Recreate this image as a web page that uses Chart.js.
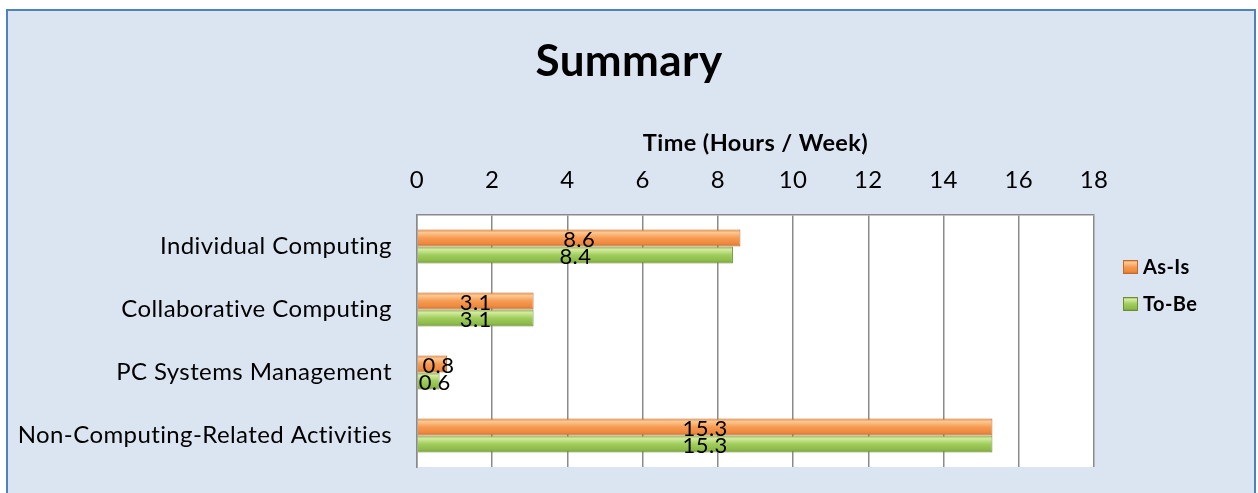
<!DOCTYPE html>
<html>
<head>
<meta charset="utf-8">
<script src="https://cdn.jsdelivr.net/npm/chart.js@4"></script>
<style>
  html, body { margin: 0; padding: 0; background: #ffffff; }
  #wrap { width: 1258px; height: 493px; }
</style>
</head>
<body>
<div id="wrap"><canvas id="summary-chart" width="1258" height="493"></canvas></div>
<script>
const categories = ['Individual Computing', 'Collaborative Computing', 'PC Systems Management', 'Non-Computing-Related Activities'];
const seriesNames = ['As-Is', 'To-Be'];
const asIsHours = [8.6, 3.1, 0.8, 15.3];
const toBeHours = [8.4, 3.1, 0.6, 15.3];
const xTicks = [0, 2, 4, 6, 8, 10, 12, 14, 16, 18];

const FONT = 'Lato, "DejaVu Sans", sans-serif';
const CAT_PCT = 0.54;

// gradient stops for the bevelled bars
const barStyles = [
    { border: '#c46a28', stops: ['#e8843a', '#fcc892', '#f79b52', '#ec873d', '#b9652a'] },
    { border: '#6f8c37', stops: ['#8cb04a', '#d3eb9f', '#a0cd5c', '#8cba48', '#6a8a34'] }
];

function makeGradient(ctx, top, bottom, style) {
    const g = ctx.createLinearGradient(0, top, 0, bottom);
    const pos = [0, 0.18, 0.5, 0.85, 1];
    style.stops.forEach((c, i) => g.addColorStop(pos[i], c));
    return g;
}

function barFill(context) {
    const chart = context.chart;
    const style = barStyles[context.datasetIndex];
    const yScale = chart.scales.y;
    if (!yScale || !chart.chartArea) return style.stops[2];
    const center = yScale.getPixelForValue(context.dataIndex);
    const half = yScale.height / categories.length * CAT_PCT / 2;
    const top = context.datasetIndex === 0 ? center - half : center;
    return makeGradient(chart.ctx, top, top + half, style);
}

const backgroundPlugin = {
    id: 'frame',
    afterLayout(chart) {
        // center the title over the whole frame, legend column included
        if (chart.titleBlock) {
            chart.titleBlock.left = 0;
            chart.titleBlock.right = chart.width;
        }
    },
    beforeDraw(chart) {
        const ctx = chart.ctx;
        const a = chart.chartArea;
        ctx.letterSpacing = '0.4px';
        ctx.save();
        ctx.fillStyle = '#ffffff';
        ctx.fillRect(0, 0, chart.width, chart.height);
        ctx.fillStyle = '#dbe5f1';
        ctx.fillRect(7, 10, chart.width - 10, chart.height);
        ctx.strokeStyle = '#4f81bd';
        ctx.lineWidth = 2;
        ctx.strokeRect(7, 10, chart.width - 10, chart.height + 10);
        ctx.fillStyle = '#ffffff';
        ctx.fillRect(a.left, a.top, a.right - a.left, a.bottom - a.top);
        ctx.restore();
    }
};

const valueLabels = {
    id: 'valueLabels',
    afterDatasetsDraw(chart) {
        const ctx = chart.ctx;
        ctx.save();
        ctx.font = '22px ' + FONT;
        ctx.fillStyle = '#000000';
        ctx.textAlign = 'center';
        ctx.textBaseline = 'middle';
        chart.data.datasets.forEach((ds, di) => {
            chart.getDatasetMeta(di).data.forEach((bar, i) => {
                const x = (bar.x + bar.base) / 2 + (ds.data[i] < 1 ? 6 : 0);
                ctx.fillText(ds.data[i].toFixed(1), x, bar.y + 2);
            });
        });
        ctx.restore();
    }
};

const sideLegend = {
    id: 'sideLegend',
    afterDraw(chart) {
        const ctx = chart.ctx;
        ctx.save();
        ctx.font = 'bold 20px ' + FONT;
        ctx.textBaseline = 'middle';
        ctx.fillStyle = '#000000';
        const rows = [267, 304];
        chart.data.datasets.forEach((ds, i) => {
            const y = rows[i];
            const style = barStyles[i];
            ctx.fillStyle = makeGradient(ctx, y - 7, y + 7, style);
            ctx.fillRect(1123, y - 7, 15, 14);
            ctx.strokeStyle = style.border;
            ctx.lineWidth = 1;
            ctx.strokeRect(1123.5, y - 6.5, 14, 13);
            ctx.fillStyle = '#000000';
            ctx.fillText(ds.label, 1143, y + 1);
        });
        ctx.restore();
    }
};

new Chart(document.getElementById('summary-chart'), {
    type: 'bar',
    data: {
        labels: categories,
        datasets: [
            {
                label: seriesNames[0],
                data: asIsHours,
                backgroundColor: barFill,
                borderColor: barStyles[0].border,
                borderWidth: 1
            },
            {
                label: seriesNames[1],
                data: toBeHours,
                backgroundColor: barFill,
                borderColor: barStyles[1].border,
                borderWidth: 1
            }
        ]
    },
    options: {
        indexAxis: 'y',
        responsive: false,
        animation: false,
        categoryPercentage: CAT_PCT,
        barPercentage: 1,
        layout: {
            padding: { top: 10, left: 7, right: 164, bottom: 26 }
        },
        scales: {
            x: {
                position: 'top',
                min: 0,
                max: 18,
                afterBuildTicks(scale) {
                    scale.ticks = xTicks.map((v) => ({ value: v }));
                },
                afterFit(scale) {
                    scale.height = 126.6;
                },
                ticks: {
                    color: '#000000',
                    padding: 20,
                    font: { family: FONT, size: 24 }
                },
                title: {
                    display: true,
                    text: 'Time (Hours / Week)',
                    color: '#000000',
                    padding: { top: 40.5, bottom: 0 },
                    font: { family: FONT, size: 23.5, weight: 'bold' }
                },
                grid: {
                    color: '#8a8a8a',
                    lineWidth: 1.5,
                    drawTicks: false
                },
                border: {
                    color: '#8a8a8a',
                    width: 1.5
                }
            },
            y: {
                afterFit(scale) {
                    scale.width = 410;
                    scale.paddingTop = 0;
                    scale.paddingBottom = 0;
                },
                ticks: {
                    color: '#000000',
                    padding: 25,
                    font: { family: FONT, size: 24 }
                },
                grid: {
                    display: false,
                    drawTicks: false
                },
                border: {
                    display: true,
                    color: '#8a8a8a',
                    width: 1.5
                }
            }
        },
        plugins: {
            legend: { display: false },
            tooltip: { enabled: false },
            title: {
                display: true,
                text: 'Summary',
                color: '#000000',
                padding: { top: 25.6, bottom: 0 },
                font: { family: FONT, size: 44, weight: 'bold' }
            }
        }
    },
    plugins: [backgroundPlugin, valueLabels, sideLegend]
});
</script>
</body>
</html>
